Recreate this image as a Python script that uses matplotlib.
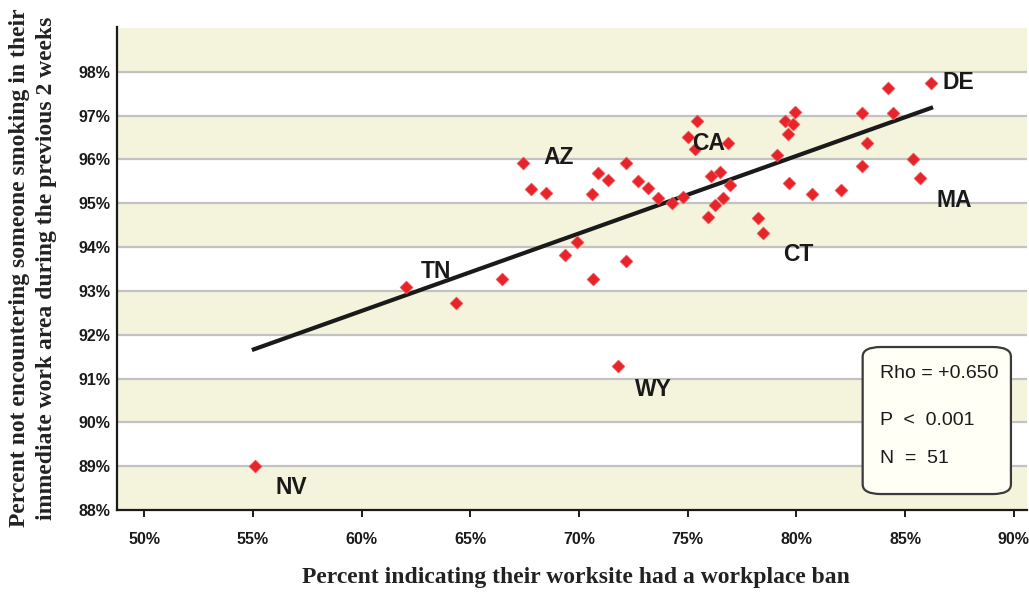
import numpy as np
import matplotlib
matplotlib.use('Agg')
import matplotlib.pyplot as plt
from matplotlib.patches import FancyBboxPatch

# Percent with workplace ban (x) vs percent not encountering smoking (y)
ban_pct = [55.09, 62.04, 64.34, 66.44, 67.43, 67.79, 68.46, 69.35, 69.92, 70.63,
           70.61, 70.87, 71.32, 71.79, 72.16, 72.14, 72.71, 73.18, 73.64, 74.29,
           74.79, 75.02, 75.41, 75.33, 75.95, 76.25, 76.61, 76.07, 76.50, 76.94,
           76.86, 78.24, 78.47, 79.10, 79.65, 79.49, 79.93, 79.83, 79.59, 80.70,
           82.03, 83.00, 83.23, 83.00, 84.19, 84.45, 85.34, 85.68, 86.17]
no_smoke_pct = [89.00, 93.08, 92.72, 93.26, 95.92, 95.32, 95.23, 93.82, 94.12, 93.26,
                95.20, 95.70, 95.53, 91.29, 93.69, 95.92, 95.50, 95.35, 95.11, 95.00,
                95.15, 96.51, 96.88, 96.23, 94.69, 94.97, 95.12, 95.61, 95.71, 95.42,
                96.37, 94.67, 94.33, 96.09, 95.47, 96.88, 97.09, 96.81, 96.58, 95.21,
                95.30, 97.07, 96.37, 95.85, 97.62, 97.05, 96.00, 95.58, 97.74]

# labelled states: index into the arrays above, offset of the label in pixels
state_names = ['NV', 'TN', 'AZ', 'WY', 'CA', 'CT', 'MA', 'DE']
state_index = [0, 1, 4, 13, 23, 32, 47, 48]
state_offset = [(21, -21), (15, 16), (20, 5), (17, -24), (-3, 6), (20, -22), (17, -23), (12, 1)]

trend_x = [54.95, 86.28]
trend_y = [91.65, 97.19]

x_ticks = [50, 55, 60, 65, 70, 75, 80, 85, 90]
y_ticks = [88, 89, 90, 91, 92, 93, 94, 95, 96, 97, 98]

stats_lines = ['Rho = +0.650', 'P  <  0.001', 'N  =  51']

beige = '#f4f3dc'
red = '#e8232a'
dark = '#1a1a1a'
sans = ['Liberation Sans', 'DejaVu Sans']
serif = ['Liberation Serif', 'DejaVu Serif']

fig = plt.figure(figsize=(10.29, 5.97), dpi=100)
ax = fig.add_axes([0.114, 0.1457, 0.884, 0.809])
ax.set_xlim(48.76, 90.6)
ax.set_ylim(88, 99.02)

# alternating bands and grid lines
for i, lo in enumerate(range(88, 99)):
    if i % 2 == 0:
        ax.axhspan(lo, lo + 1, color=beige, lw=0, zorder=0)
for yv in y_ticks:
    if yv > 88:
        ax.axhline(yv, color='#c2c2c2', lw=1.6, zorder=1)

ax.plot(trend_x, trend_y, color=dark, lw=3.0, solid_capstyle='butt', zorder=3)
ax.scatter(ban_pct, no_smoke_pct, marker='D', s=44, color=red,
           edgecolors='#f06a6a', linewidths=0.4, zorder=4)

for name, idx, (dx, dy) in zip(state_names, state_index, state_offset):
    ax.annotate(name, (ban_pct[idx], no_smoke_pct[idx]),
                xytext=(dx * 0.72, dy * 0.72), textcoords='offset points',
                ha='left', va='center', fontsize=16.5, fontweight='bold',
                family=sans, color=dark, zorder=5)

# stats box
box = FancyBboxPatch((0.8194, 0.0331), 0.163, 0.3044, transform=ax.transAxes,
                     boxstyle='round,pad=0,rounding_size=0.02',
                     facecolor='#fffff6', edgecolor='#3a3a3a', lw=1.6, zorder=6)
ax.add_patch(box)
for line, yy in zip(stats_lines, [0.2836, 0.1863, 0.1077]):
    ax.text(0.839, yy, line, transform=ax.transAxes, ha='left', va='center',
            fontsize=14, family=sans, color=dark, zorder=7)

for s in ['top', 'right']:
    ax.spines[s].set_visible(False)
for s in ['left', 'bottom']:
    ax.spines[s].set_color(dark)
    ax.spines[s].set_linewidth(1.6)

ax.set_xticks(x_ticks)
ax.set_xticklabels([f'{v}%' for v in x_ticks])
ax.set_yticks(y_ticks)
ax.set_yticklabels([f'{v}%' for v in y_ticks])
ax.tick_params(axis='x', length=5, width=1.4, color=dark, pad=11)
ax.tick_params(axis='y', length=0, pad=5)
for lab in ax.get_xticklabels() + ax.get_yticklabels():
    lab.set_family(sans)
    lab.set_fontweight('bold')
    lab.set_fontsize(11.5)
    lab.set_color(dark)

fig.text(576 / 1029, 1 - 578 / 597, 'Percent indicating their worksite had a workplace ban',
         ha='center', va='center', fontsize=17, fontweight='bold', family=serif, color='#222222')
fig.text(33 / 1029, 1 - 268 / 597,
         'Percent not encountering someone smoking in their\nimmediate work area during the previous 2 weeks',
         ha='center', va='center', rotation=90, fontsize=17, fontweight='bold',
         family=serif, color='#222222', linespacing=1.35)

fig.savefig('out.png', dpi=100)
